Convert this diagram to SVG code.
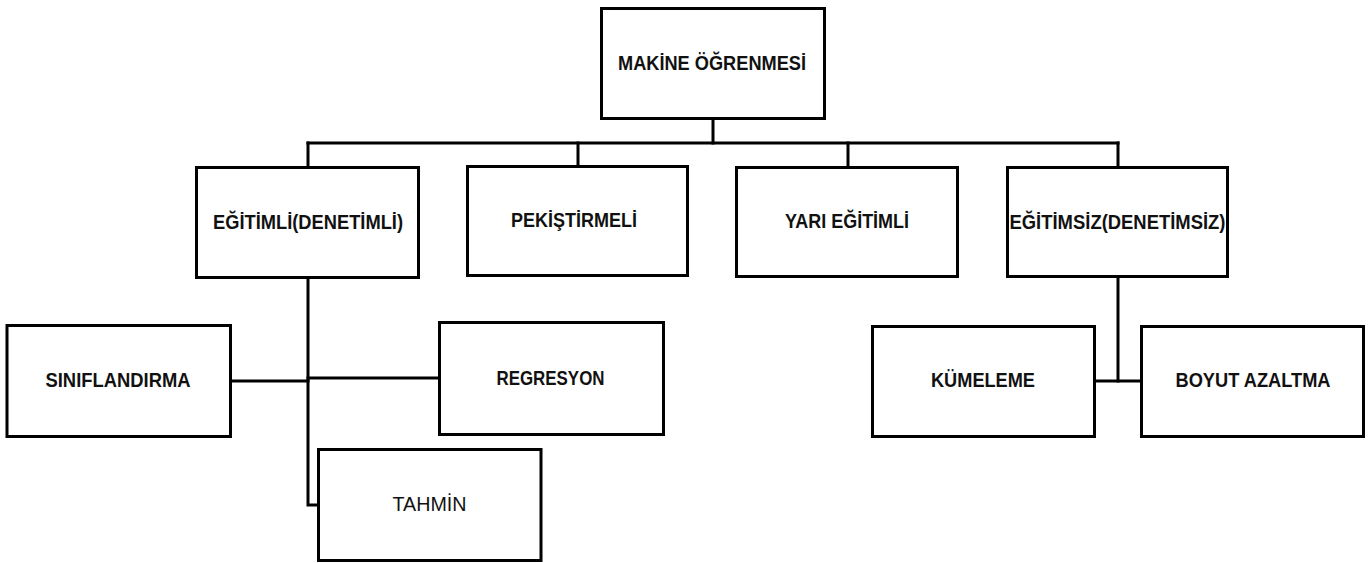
<svg xmlns="http://www.w3.org/2000/svg" width="1369" height="563" viewBox="0 0 1369 563">
  <style>
    .box { fill: #ffffff; stroke: #000000; stroke-width: 3; }
    .wire { fill: none; stroke: #000000; stroke-width: 3; stroke-linecap: square; }
    .lbl { font-family: "Liberation Sans", Arial, sans-serif; font-size: 20px; font-weight: bold; fill: #111111; text-anchor: middle; }
    .plain { font-weight: normal; }
  </style>
  <rect width="1369" height="563" fill="#ffffff"/>

  <!-- connectors -->
  <g id="connectors">
    <path class="wire" d="M713 119 V143"/>
    <path class="wire" d="M308 143 H1118"/>
    <path class="wire" d="M308 143 V167 M578 143 V166 M848 143 V167 M1118 143 V167"/>
    <path class="wire" d="M308 278 V505 H318"/>
    <path class="wire" d="M231 381 H308"/>
    <path class="wire" d="M308 378 H439"/>
    <path class="wire" d="M1118 277 V381"/>
    <path class="wire" d="M1095 381 H1141"/>
  </g>

  <g id="node-makine-ogrenmesi">
    <rect class="box" x="601.5" y="8.5" width="223" height="110"/>
    <text class="lbl" x="712" y="70" textLength="188" lengthAdjust="spacingAndGlyphs">MAKİNE ÖĞRENMESİ</text>
  </g>

  <g id="node-egitimli">
    <rect class="box" x="196.5" y="167.5" width="222" height="110"/>
    <text class="lbl" x="308" y="229" textLength="190" lengthAdjust="spacingAndGlyphs">EĞİTİMLİ(DENETİMLİ)</text>
  </g>

  <g id="node-pekistirmeli">
    <rect class="box" x="467.5" y="166.5" width="220" height="109"/>
    <text class="lbl" x="574" y="227" textLength="126" lengthAdjust="spacingAndGlyphs">PEKİŞTİRMELİ</text>
  </g>

  <g id="node-yari-egitimli">
    <rect class="box" x="736.5" y="167.5" width="221" height="109"/>
    <text class="lbl" x="847" y="228" textLength="124" lengthAdjust="spacingAndGlyphs">YARI EĞİTİMLİ</text>
  </g>

  <g id="node-egitimsiz">
    <rect class="box" x="1007.5" y="167.5" width="220" height="109"/>
    <text class="lbl" x="1117.5" y="229" textLength="216" lengthAdjust="spacingAndGlyphs">EĞİTİMSİZ(DENETİMSİZ)</text>
  </g>

  <g id="node-siniflandirma">
    <rect class="box" x="7" y="325.5" width="223.5" height="111"/>
    <text class="lbl" x="118" y="387" textLength="145" lengthAdjust="spacingAndGlyphs">SINIFLANDIRMA</text>
  </g>

  <g id="node-regresyon">
    <rect class="box" x="439.5" y="322.5" width="224" height="112"/>
    <text class="lbl" x="550.5" y="385" textLength="108" lengthAdjust="spacingAndGlyphs">REGRESYON</text>
  </g>

  <g id="node-tahmin">
    <rect class="box" x="318.5" y="449.5" width="222.5" height="111"/>
    <text class="lbl plain" x="429.5" y="511" textLength="74" lengthAdjust="spacingAndGlyphs">TAHMİN</text>
  </g>

  <g id="node-kumeleme">
    <rect class="box" x="872.5" y="326.5" width="222" height="110"/>
    <text class="lbl" x="983" y="387" textLength="104" lengthAdjust="spacingAndGlyphs">KÜMELEME</text>
  </g>

  <g id="node-boyut-azaltma">
    <rect class="box" x="1141.5" y="326.5" width="222" height="110"/>
    <text class="lbl" x="1253" y="387" textLength="155" lengthAdjust="spacingAndGlyphs">BOYUT AZALTMA</text>
  </g>
</svg>
